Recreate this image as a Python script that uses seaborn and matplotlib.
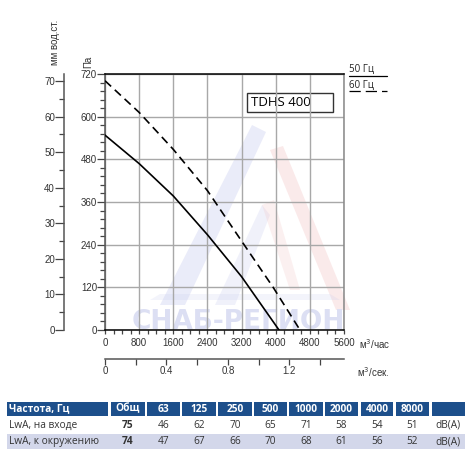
import numpy as np
import pandas as pd
import matplotlib
matplotlib.use('Agg')
import matplotlib.pyplot as plt
import seaborn as sns
from matplotlib.patches import Rectangle, Polygon
from matplotlib.lines import Line2D
from matplotlib.ticker import MultipleLocator, FixedLocator

# --- data ---
q_50 = [0, 800, 1600, 2400, 3200, 4077]            # m3/h, 50 Hz
p_50 = [548, 468, 377, 268, 150, 0]                # Pa
q_60 = [0, 800, 1600, 2400, 3230, 3940, 4569]      # m3/h, 60 Hz
p_60 = [701, 612, 508, 392, 245, 120, 0]

bands = ['Общ', '63', '125', '250', '500', '1000', '2000', '4000', '8000']
lwa_in = [75, 46, 62, 70, 65, 71, 58, 54, 51]
lwa_out = [74, 47, 67, 66, 70, 68, 61, 56, 52]
row_names = ['LwA, на входе', 'LwA, к окружению']

df = pd.concat([
    pd.DataFrame({'Q': q_50, 'P': p_50, 'f': '50 Гц'}),
    pd.DataFrame({'Q': q_60, 'P': p_60, 'f': '60 Гц'}),
])

sns.set_style('white')
plt.rcParams['font.family'] = ['Liberation Sans', 'DejaVu Sans']

W, H = 471, 461
fig = plt.figure(figsize=(W / 100, H / 100), dpi=100)
PT = 0.72  # points per pixel at 100 dpi

def fx(px):
    return px / W

def fy(py):
    return 1 - py / H

# background overlay in pixel coords for watermark, legend and table
bg = fig.add_axes([0, 0, 1, 1], zorder=0)
bg.set_xlim(0, W)
bg.set_ylim(H, 0)
bg.axis('off')

# --- main chart ---
x0, x1, ytop, ybot = 105, 344, 74, 330
ax = fig.add_axes([fx(x0), fy(ybot), fx(x1) - fx(x0), fy(ytop) - fy(ybot)], zorder=2)
ax.patch.set_alpha(0)

# faint watermark
wm_blue = '#c5c9ee'
wm_red = '#f3c4c4'
bg.add_patch(Polygon([(160, 305), (252, 125), (266, 132), (185, 305)], closed=True,
                     color=wm_blue, alpha=0.35, lw=0))
bg.add_patch(Polygon([(215, 305), (262, 205), (270, 215), (235, 305)], closed=True,
                     color=wm_blue, alpha=0.25, lw=0))
bg.add_patch(Polygon([(270, 150), (283, 146), (350, 310), (336, 310)], closed=True,
                     color=wm_red, alpha=0.35, lw=0))
bg.add_patch(Polygon([(262, 205), (274, 200), (300, 290), (290, 290)], closed=True,
                     color=wm_red, alpha=0.25, lw=0))
bg.add_patch(Polygon([(150, 300), (340, 300), (330, 294), (160, 294)], closed=True,
                     color=wm_blue, alpha=0.2, lw=0))
bg.text(238, 322, 'СНАБ-РЕГИОН', ha='center', va='center', fontsize=19,
        fontweight='bold', color='#dcdff3', family='DejaVu Sans')

sns.lineplot(data=df, x='Q', y='P', style='f', ax=ax, color='black', lw=1.2,
             dashes={'50 Гц': '', '60 Гц': (5, 3)}, legend=False, zorder=3)

ax.set_xlim(0, 5600)
ax.set_ylim(0, 720)
ax.set_xlabel('')
ax.set_ylabel('')
ax.xaxis.set_major_locator(MultipleLocator(800))
ax.xaxis.set_minor_locator(MultipleLocator(200))
ax.yaxis.set_major_locator(MultipleLocator(120))
ax.yaxis.set_minor_locator(MultipleLocator(24))
ax.grid(True, which='major', color='#a8a8a8', lw=1.0, zorder=1)
ax.set_axisbelow(True)

tick_col = '#333333'
ax.tick_params(axis='x', which='both', direction='out', length=4 * PT, width=0.9,
               color='#444444', labelsize=7, labelcolor=tick_col, pad=3, bottom=True)
ax.tick_params(axis='y', which='major', direction='out', length=8 * PT, width=0.9,
               color='#444444', labelsize=7, labelcolor=tick_col, pad=0, left=True)
ax.tick_params(axis='y', which='minor', direction='out', length=5 * PT, width=0.9,
               color='#444444', left=True)

ax.spines['top'].set_color('black')
ax.spines['bottom'].set_color('black')
ax.spines['right'].set_color('#888888')
ax.spines['left'].set_color('#555555')
for s in ax.spines.values():
    s.set_linewidth(1.1)

# model box
bg.add_patch(Rectangle((247, 93), 86, 19, fill=True, facecolor='white',
                       edgecolor='#333333', lw=1.0, zorder=3))
bg.text(251, 102.5, 'TDHS 400', ha='left', va='center', fontsize=9.5,
        family='Open Sans', color='black', zorder=4)

# mm water column axis
ax_mm = ax.twinx()
ax_mm.set_ylim(0, 72)
ax_mm.spines['left'].set_position(('outward', 41 * PT))
ax_mm.spines['left'].set_visible(True)
ax_mm.spines['left'].set_color('#555555')
ax_mm.spines['left'].set_linewidth(1.1)
for k in ['right', 'top', 'bottom']:
    ax_mm.spines[k].set_visible(False)
ax_mm.yaxis.set_ticks_position('left')
ax_mm.yaxis.set_label_position('left')
ax_mm.set_yticks(np.arange(0, 71, 10))
ax_mm.yaxis.set_minor_locator(MultipleLocator(5))
ax_mm.tick_params(axis='y', which='major', length=9 * PT, width=0.9, color='#444444',
                  labelsize=7, labelcolor=tick_col, pad=0)
ax_mm.tick_params(axis='y', which='minor', length=5 * PT, width=0.9, color='#444444')

# m3/s axis
ax_s = ax.twiny()
ax_s.set_xlim(0, 5600 / 3600)
ax_s.spines['bottom'].set_position(('outward', 29 * PT))
ax_s.spines['bottom'].set_visible(True)
ax_s.spines['bottom'].set_color('#555555')
ax_s.spines['bottom'].set_linewidth(1.1)
for k in ['right', 'top', 'left']:
    ax_s.spines[k].set_visible(False)
ax_s.xaxis.set_ticks_position('bottom')
ax_s.xaxis.set_major_locator(FixedLocator([0, 0.4, 0.8, 1.2]))
ax_s.xaxis.set_minor_locator(FixedLocator([0.2, 0.6, 1.0, 1.4]))
ax_s.set_xticklabels(['0', '0.4', '0.8', '1.2'])
ax_s.tick_params(axis='x', which='both', length=6 * PT, width=0.9, color='#444444',
                 labelsize=7, labelcolor=tick_col, pad=1)

# axis unit labels
lab_kw = dict(fontsize=7, color=tick_col)
fig.text(fx(55), fy(42), 'мм вод.ст.', rotation=90, ha='center', va='center', **lab_kw)
fig.text(fx(88), fy(62), 'Па', rotation=90, ha='center', va='center', **lab_kw)
fig.text(fx(359), fy(344), 'м$^3$/час', ha='left', va='center', **lab_kw)
fig.text(fx(357), fy(372), 'м$^3$/сек.', ha='left', va='center', **lab_kw)

# legend at top right
bg.text(349, 69, '50 Гц', ha='left', va='center', fontsize=7, family='Open Sans', color='#222222')
bg.add_line(Line2D([349, 387], [76, 76], color='black', lw=0.9))
bg.text(349, 85, '60 Гц', ha='left', va='center', fontsize=7, family='Open Sans', color='#222222')
bg.add_line(Line2D([349, 387], [91.5, 91.5], color='black', lw=0.9, dashes=(9, 4)))

# --- noise table ---
col_edges = [(7, 108), (111, 145), (147, 180), (182, 216), (218, 252), (254, 287),
             (289, 323), (325, 358), (361, 393), (396, 429), (432, 465)]
head_col = '#1d4f8b'
row_col = '#d3d7ea'
hy0, hy1 = 402, 416
ry = [(417, 433), (434, 449)]

for a, b in col_edges:
    bg.add_patch(Rectangle((a, hy0), b - a, hy1 - hy0, facecolor=head_col, lw=0))
bg.add_patch(Rectangle((7, ry[1][0]), 458, ry[1][1] - ry[1][0], facecolor=row_col, lw=0))

tkw = dict(family='Open Sans', fontsize=7.3)
bg.text(9, (hy0 + hy1) / 2, 'Частота, Гц', ha='left', va='center', color='white',
        fontweight='bold', **tkw)
for (a, b), name in zip(col_edges[1:10], bands):
    bg.text((a + b) / 2, (hy0 + hy1) / 2, name, ha='center', va='center',
            color='white', fontweight='bold', **tkw)

for (r0, r1), name, vals in zip(ry, row_names, [lwa_in, lwa_out]):
    yc = (r0 + r1) / 2
    bg.text(9, yc, name, ha='left', va='center', color='#333333', **tkw)
    for j, ((a, b), v) in enumerate(zip(col_edges[1:10], vals)):
        bg.text((a + b) / 2, yc, str(v), ha='center', va='center', color='#333333',
                fontweight='bold' if j == 0 else 'normal', **tkw)
    bg.text(448, yc, 'dB(A)', ha='center', va='center', color='#333333', **tkw)

fig.savefig('out.png', dpi=100)
